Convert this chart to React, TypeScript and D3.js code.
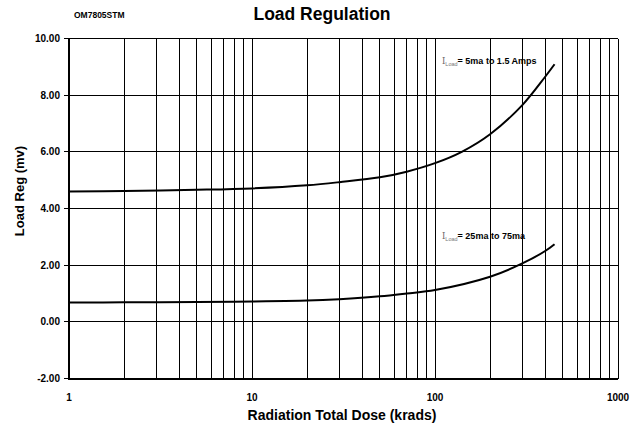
import React from "react";
import * as d3 from "d3";

// dose in krads, load regulation in mV
const doses = [1, 2, 5, 10, 20, 30, 50, 70, 100, 140, 200, 300, 400, 450];
const highLoad = [4.6, 4.62, 4.66, 4.71, 4.82, 4.93, 5.1, 5.3, 5.6, 6.0, 6.62, 7.65, 8.65, 9.09];
const lowDoses = [1, 2, 5, 10, 20, 30, 50, 70, 100, 200, 300, 400, 450];
const lowLoad = [0.68, 0.69, 0.7, 0.72, 0.75, 0.8, 0.9, 1.0, 1.12, 1.59, 2.06, 2.5, 2.74];

const yTicks = [-2, 0, 2, 4, 6, 8, 10];
const xDecades = [1, 10, 100, 1000];

const W = 640;
const H = 430;
const margin = { left: 69, right: 22, top: 38.5, bottom: 51.5 };
const FONT = "'Liberation Sans', Arial, Helvetica, sans-serif";

export default function App() {
  const x = d3.scaleLog().domain([1, 1000]).range([margin.left, W - margin.right]);
  const y = d3.scaleLinear().domain([-2, 10]).range([H - margin.bottom, margin.top]);

  // minor + major vertical grid lines
  const xGrid: number[] = [];
  for (let d = 1; d < 1000; d *= 10) {
    for (let k = 1; k <= 10; k++) xGrid.push(d * k);
  }

  const line = d3
    .line<[number, number]>()
    .x((d) => x(d[0]))
    .y((d) => y(d[1]))
    .curve(d3.curveCatmullRom.alpha(0.5));

  const upper = line(doses.map((d, i) => [d, highLoad[i]]));
  const lower = line(lowDoses.map((d, i) => [d, lowLoad[i]]));

  const [x0, x1] = x.range();
  const [y0, y1] = y.range();

  const note = (label: string, yy: number) => (
    <text x={442} y={yy} fontFamily={FONT} fontSize={9} fontWeight="bold" fill="#000">
      <tspan fontFamily="'DejaVu Serif', serif" fontWeight="normal" fill="#666" fontSize={8.5}>I</tspan>
      <tspan fontWeight="normal" fill="#777" fontSize={5.5} dy={1.5}>Load</tspan>
      <tspan dy={-1.5}>{label}</tspan>
    </text>
  );

  return (
    <svg width={W} height={H} style={{ position: "absolute", left: 0, top: 0, background: "#fff" }}>
      <text x={74} y={18} fontFamily={FONT} fontSize={8.5} fontWeight="bold">OM7805STM</text>
      <text x={322} y={20} textAnchor="middle" fontFamily={FONT} fontSize={17.5} fontWeight="bold">
        Load Regulation
      </text>

      <g stroke="#000" strokeWidth={1} shapeRendering="crispEdges">
        {xGrid.map((v) => (
          <line key={"v" + v} x1={x(v)} x2={x(v)} y1={y1} y2={y0} />
        ))}
        {yTicks.map((v) => (
          <line key={"h" + v} x1={x0 - 5} x2={x1} y1={y(v)} y2={y(v)} />
        ))}
        <line x1={x0} x2={x0} y1={y1} y2={y0 + 1} strokeWidth={2} />
        <line x1={x0} x2={x1} y1={y0} y2={y0} strokeWidth={2} />
      </g>

      <g fill="none" stroke="#000" strokeWidth={2}>
        <path d={upper ?? ""} />
        <path d={lower ?? ""} />
      </g>

      {note("= 5ma to 1.5 Amps", 64)}
      {note("= 25ma to 75ma", 239)}

      <g fontFamily={FONT} fontSize={10} fontWeight="bold">
        {yTicks.map((v) => (
          <text key={"yl" + v} x={x0 - 9} y={y(v) + 3.5} textAnchor="end">
            {v.toFixed(2)}
          </text>
        ))}
        {xDecades.map((v) => (
          <text key={"xl" + v} x={x(v)} y={y0 + 22} textAnchor="middle">
            {v}
          </text>
        ))}
      </g>

      <text x={342} y={420} textAnchor="middle" fontFamily={FONT} fontSize={14} fontWeight="bold">
        Radiation Total Dose (krads)
      </text>
      <text
        transform={`translate(24,191) rotate(-90)`}
        textAnchor="middle"
        fontFamily={FONT}
        fontSize={13}
        fontWeight="bold"
      >
        Load Reg (mv)
      </text>
    </svg>
  );
}
